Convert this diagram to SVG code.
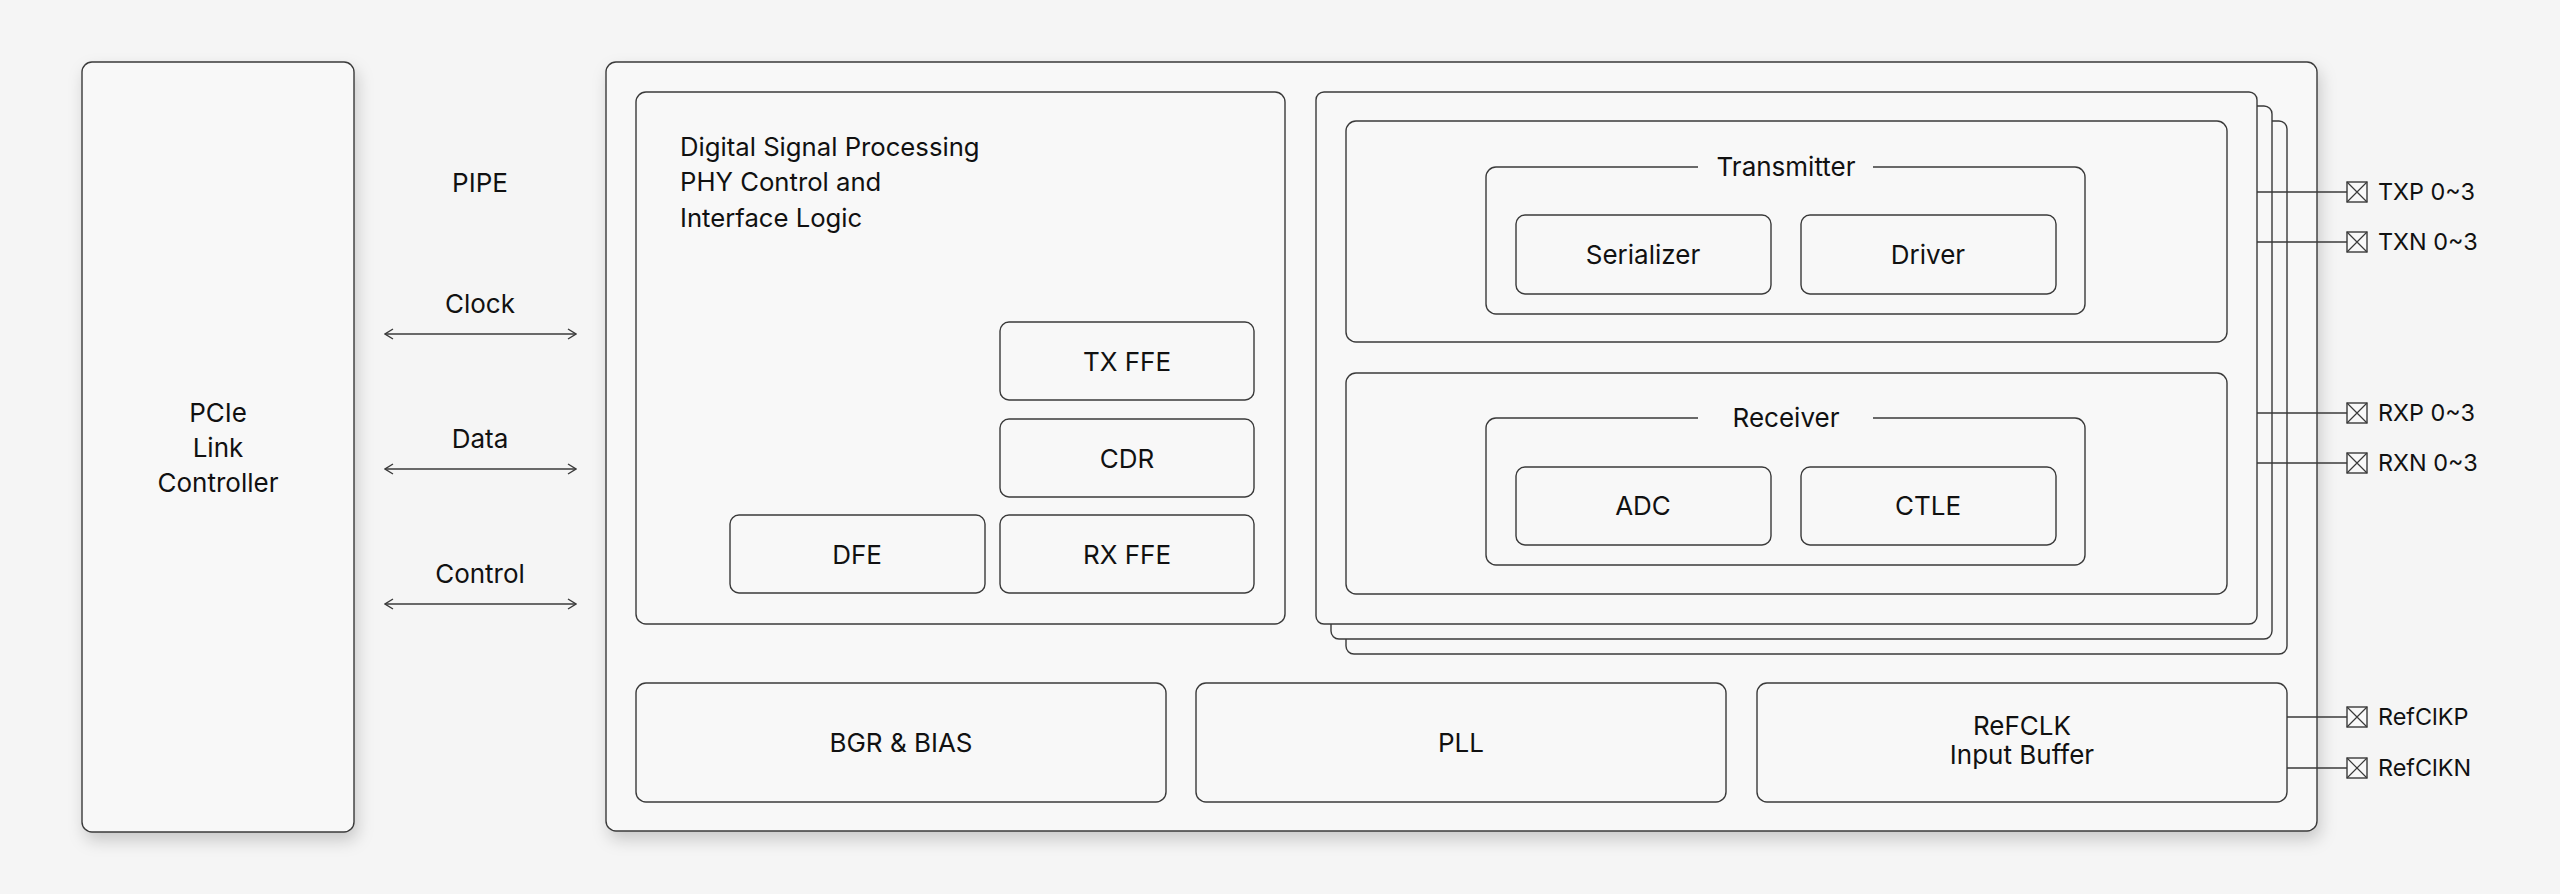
<svg xmlns="http://www.w3.org/2000/svg" width="2560" height="894" viewBox="0 0 2560 894">
<defs>
<style>
.box{fill:#f8f8f8;stroke:#3a3a3a;stroke-width:1.4}
.ln{fill:none;stroke:#3a3a3a;stroke-width:1.4}
.t{font-family:Inter,"Liberation Sans",sans-serif;font-size:26px;fill:#111;text-anchor:middle}
.tl{font-family:Inter,"Liberation Sans",sans-serif;font-size:25.7px;fill:#111}
.tp{font-family:Inter,"Liberation Sans",sans-serif;font-size:23.4px;fill:#111}
</style>
<filter id="sh" x="-10%" y="-10%" width="130%" height="130%">
<feDropShadow dx="3" dy="8" stdDeviation="8" flood-color="#000" flood-opacity="0.18"/>
</filter>
<marker id="ah" viewBox="0 0 10 12" refX="9" refY="6" markerWidth="10" markerHeight="12" markerUnits="userSpaceOnUse" orient="auto-start-reverse">
<path d="M1,1 L9,6 L1,11" fill="none" stroke="#3a3a3a" stroke-width="1.4"/>
</marker>
<g id="pin">
<rect x="0" y="-10" width="20" height="20" fill="#f8f8f8" stroke="#3a3a3a" stroke-width="1.4"/>
<path d="M0,-10 L20,10 M20,-10 L0,10" stroke="#3a3a3a" stroke-width="1.2"/>
</g>
</defs>
<rect width="2560" height="894" fill="#f5f5f5"/>

<g id="pcie">
<rect class="box" x="82" y="62" width="272" height="770" rx="10" filter="url(#sh)"/>
<text class="t" x="218" y="422">PCIe</text>
<text class="t" x="218" y="457">Link</text>
<text class="t" x="218" y="492">Controller</text>
</g>

<g id="pipe-labels">
<text class="t" x="480" y="192">PIPE</text>
<text class="t" x="480" y="313">Clock</text>
<text class="t" x="480" y="448">Data</text>
<text class="t" x="480" y="583">Control</text>
</g>

<g id="phy">
<rect class="box" x="606" y="62" width="1711" height="769" rx="10" filter="url(#sh)"/>
</g>

<g id="dsp">
<rect class="box" x="636" y="92" width="649" height="532" rx="10"/>
<text class="tl" x="680" y="156">Digital Signal Processing</text>
<text class="tl" x="680" y="191">PHY Control and</text>
<text class="tl" x="680" y="227">Interface Logic</text>
</g>
<g id="txffe">
<rect class="box" x="1000" y="322" width="254" height="78" rx="9"/>
<text class="t" x="1127" y="371">TX FFE</text>
</g>
<g id="cdr">
<rect class="box" x="1000" y="419" width="254" height="78" rx="9"/>
<text class="t" x="1127" y="468">CDR</text>
</g>
<g id="rxffe">
<rect class="box" x="1000" y="515" width="254" height="78" rx="9"/>
<text class="t" x="1127" y="564">RX FFE</text>
</g>
<g id="dfe">
<rect class="box" x="730" y="515" width="255" height="78" rx="9"/>
<text class="t" x="857" y="564">DFE</text>
</g>

<g id="lanes">
<rect class="box" x="1346" y="121" width="941" height="533" rx="8"/>
<rect class="box" x="1331" y="106" width="941" height="533" rx="8"/>
<rect class="box" x="1316" y="92" width="941" height="532" rx="8"/>
</g>

<g id="transmitter">
<rect class="box" x="1346" y="121" width="881" height="221" rx="10"/>
<path class="ln" d="M1698,167 H1496 A10,10 0 0 0 1486,177 V304 A10,10 0 0 0 1496,314 H2075 A10,10 0 0 0 2085,304 V177 A10,10 0 0 0 2075,167 H1873"/>
<text class="t" x="1786" y="176">Transmitter</text>
</g>
<g id="serializer">
<rect class="box" x="1516" y="215" width="255" height="79" rx="9"/>
<text class="t" x="1643" y="264">Serializer</text>
</g>
<g id="driver">
<rect class="box" x="1801" y="215" width="255" height="79" rx="9"/>
<text class="t" x="1928" y="264">Driver</text>
</g>

<g id="receiver">
<rect class="box" x="1346" y="373" width="881" height="221" rx="10"/>
<path class="ln" d="M1698,418 H1496 A10,10 0 0 0 1486,428 V555 A10,10 0 0 0 1496,565 H2075 A10,10 0 0 0 2085,555 V428 A10,10 0 0 0 2075,418 H1873"/>
<text class="t" x="1786" y="427">Receiver</text>
</g>
<g id="adc">
<rect class="box" x="1516" y="467" width="255" height="78" rx="9"/>
<text class="t" x="1643" y="515">ADC</text>
</g>
<g id="ctle">
<rect class="box" x="1801" y="467" width="255" height="78" rx="9"/>
<text class="t" x="1928" y="515">CTLE</text>
</g>

<g id="bgr">
<rect class="box" x="636" y="683" width="530" height="119" rx="10"/>
<text class="t" x="901" y="752">BGR &amp; BIAS</text>
</g>
<g id="pll">
<rect class="box" x="1196" y="683" width="530" height="119" rx="10"/>
<text class="t" x="1461" y="752">PLL</text>
</g>
<g id="refclk">
<rect class="box" x="1757" y="683" width="530" height="119" rx="10"/>
<text class="t" x="2022" y="735">ReFCLK</text>
<text class="t" x="2022" y="764">Input Buffer</text>
</g>

<g id="connectors">
<line class="ln" x1="385" y1="334" x2="576" y2="334" marker-start="url(#ah)" marker-end="url(#ah)"/>
<line class="ln" x1="385" y1="469" x2="576" y2="469" marker-start="url(#ah)" marker-end="url(#ah)"/>
<line class="ln" x1="385" y1="604" x2="576" y2="604" marker-start="url(#ah)" marker-end="url(#ah)"/>
<line class="ln" x1="2257" y1="192" x2="2347" y2="192"/>
<line class="ln" x1="2257" y1="242" x2="2347" y2="242"/>
<line class="ln" x1="2257" y1="413" x2="2347" y2="413"/>
<line class="ln" x1="2257" y1="463" x2="2347" y2="463"/>
<line class="ln" x1="2287" y1="717" x2="2347" y2="717"/>
<line class="ln" x1="2287" y1="768" x2="2347" y2="768"/>
</g>

<g id="pins">
<use href="#pin" x="2347" y="192"/>
<text class="tp" x="2378" y="200">TXP 0~3</text>
<use href="#pin" x="2347" y="242"/>
<text class="tp" x="2378" y="250">TXN 0~3</text>
<use href="#pin" x="2347" y="413"/>
<text class="tp" x="2378" y="421">RXP 0~3</text>
<use href="#pin" x="2347" y="463"/>
<text class="tp" x="2378" y="471">RXN 0~3</text>
<use href="#pin" x="2347" y="717"/>
<text class="tp" x="2378" y="725">RefClKP</text>
<use href="#pin" x="2347" y="768"/>
<text class="tp" x="2378" y="776">RefClKN</text>
</g>
</svg>
